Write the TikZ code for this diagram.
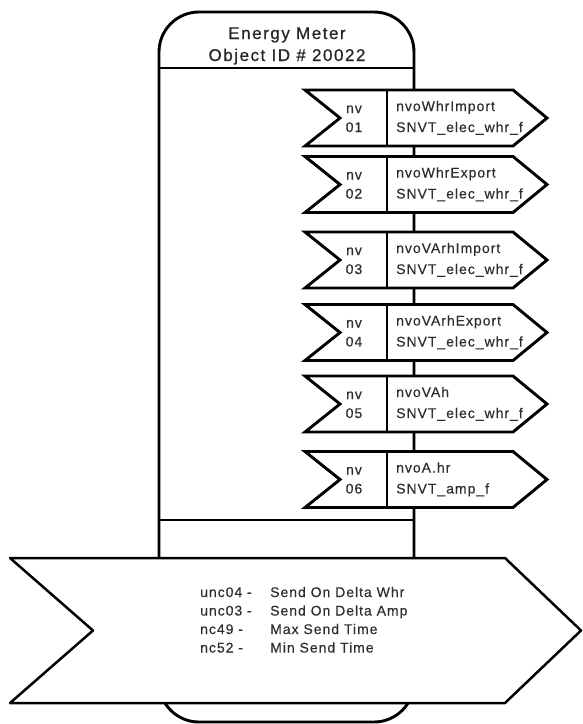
\documentclass[tikz,border=0pt]{standalone}
\usepackage{fontspec}
\setmainfont{Liberation Sans}
\newfontfamily\titlefont{Liberation Sans}[LetterSpace=9, FakeBold=0.6]
\newfontfamily\labelfont{Liberation Sans}[LetterSpace=7, FakeBold=0.3]
\begin{document}
\begin{tikzpicture}[x=1pt,y=-1pt,
  outline/.style={draw=black, line width=2.9pt, fill=white, line join=miter},
  bigoutline/.style={draw=black, line width=2.5pt, fill=white, line join=round},
  ttl/.style={font=\titlefont\fontsize{17}{20}\selectfont, text=black!85, inner sep=0pt, anchor=base},
  lbl/.style={font=\labelfont\fontsize{14}{16}\selectfont, text=black!82, inner sep=0pt, anchor=base west},
  num/.style={font=\labelfont\fontsize{14}{16}\selectfont, text=black!82, inner sep=0pt, anchor=base},
]
\useasboundingbox (0,0) rectangle (582,724);

% object body with its header
\draw[outline, rounded corners=40pt] (159,12) rectangle (414,722);
\draw[outline] (159,68) -- (414,68);
\draw[outline] (159,520) -- (414,520);
\node[ttl] (title1) at (287,39) {Energy Meter};
\node[ttl] (title2) at (287,61) {Object ID \# 20022};

% network variable outputs: #1 centre y, #2 index, #3 name, #4 type
\newcommand{\nvbox}[4]{%
  \draw[outline] (305,#1-28) -- (513,#1-28) -- (547,#1) -- (513,#1+28)
     -- (305,#1+28) -- (340,#1) -- cycle;
  \draw[outline] (387,#1-28) -- (387,#1+28);
  \node[num] (nv#2a) at (354,#1-5) {nv};
  \node[num] (nv#2b) at (354,#1+14) {#2};
  \node[lbl] (nv#2n) at (396,#1-7) {#3};
  \node[lbl] (nv#2t) at (396,#1+14) {#4};
}
\nvbox{118}{01}{nvoWhrImport}{SNVT\_elec\_whr\_f}
\nvbox{184.5}{02}{nvoWhrExport}{SNVT\_elec\_whr\_f}
\nvbox{260}{03}{nvoVArhImport}{SNVT\_elec\_whr\_f}
\nvbox{332.5}{04}{nvoVArhExport}{SNVT\_elec\_whr\_f}
\nvbox{404}{05}{nvoVAh}{SNVT\_elec\_whr\_f}
\nvbox{479.5}{06}{nvoA.hr}{SNVT\_amp\_f}

% configuration properties
\draw[bigoutline] (10,558) -- (505,558) -- (581,630.5) -- (505,703)
   -- (10,703) -- (93,630.5) -- cycle;
\node[lbl] (c1a) at (200,597) {unc04 -};
\node[lbl] (c1b) at (270,597) {Send On Delta Whr};
\node[lbl] (c2a) at (200,615.5) {unc03 -};
\node[lbl] (c2b) at (270,615.5) {Send On Delta Amp};
\node[lbl] (c3a) at (200,634) {nc49 -};
\node[lbl] (c3b) at (270,634) {Max Send Time};
\node[lbl] (c4a) at (200,652.5) {nc52 -};
\node[lbl] (c4b) at (270,652.5) {Min Send Time};
\end{tikzpicture}
\end{document}
